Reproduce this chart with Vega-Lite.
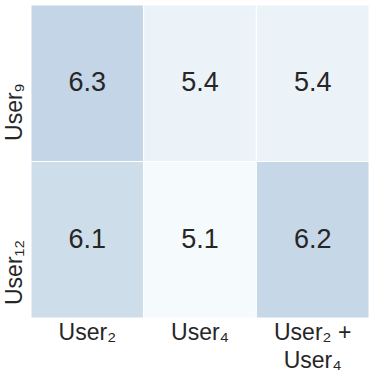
{
  "$schema": "https://vega.github.io/schema/vega-lite/v6.json",
  "width": 338,
  "height": 313,
  "autosize": {"type": "none"},
  "padding": {"left": 31, "top": 5, "right": 5, "bottom": 54},
  "background": "white",
  "config": {"view": {"stroke": null}, "font": "Liberation Sans"},
  "data": {
    "values": [
      {"row": "User₉", "col": "User₂", "value": 6.3},
      {"row": "User₉", "col": "User₄", "value": 5.4},
      {"row": "User₉", "col": "User₂ + User₄", "value": 5.4},
      {"row": "User₁₂", "col": "User₂", "value": 6.1},
      {"row": "User₁₂", "col": "User₄", "value": 5.1},
      {"row": "User₁₂", "col": "User₂ + User₄", "value": 6.2}
    ]
  },
  "encoding": {
    "x": {
      "field": "col", "type": "nominal", "sort": ["User₂", "User₄", "User₂ + User₄"], "title": null,
      "scale": {"paddingInner": 0, "paddingOuter": 0},
      "axis": {"labelAngle": 0, "domain": false, "ticks": false, "labelFontSize": 23, "labelColor": "#262626", "labelPadding": 3, "labelLineHeight": 28,
        "labelExpr": "datum.value == 'User₂ + User₄' ? ['User₂ +', 'User₄'] : datum.value", "labelBaseline": "top"}
    },
    "y": {
      "field": "row", "type": "nominal", "sort": ["User₉", "User₁₂"], "title": null,
      "scale": {"paddingInner": 0, "paddingOuter": 0},
      "axis": {"labelAngle": -90, "domain": false, "ticks": false, "labelFontSize": 23, "labelColor": "#262626", "labelPadding": 10, "labelAlign": "right", "labelBaseline": "alphabetic"}
    }
  },
  "layer": [
    {
      "mark": {"type": "rect", "stroke": "white", "strokeWidth": 1},
      "encoding": {
        "color": {"field": "value", "type": "quantitative", "legend": null,
          "scale": {"domain": [5.1, 5.4, 6.1, 6.2, 6.3], "range": ["#f5fafc", "#ebf2f8", "#cddeea", "#c6d7e8", "#c3d5e6"]}}
      }
    },
    {
      "mark": {"type": "text", "fontSize": 27, "color": "#262626"},
      "encoding": {"text": {"field": "value", "type": "quantitative", "format": ".1f"}}
    }
  ]
}
